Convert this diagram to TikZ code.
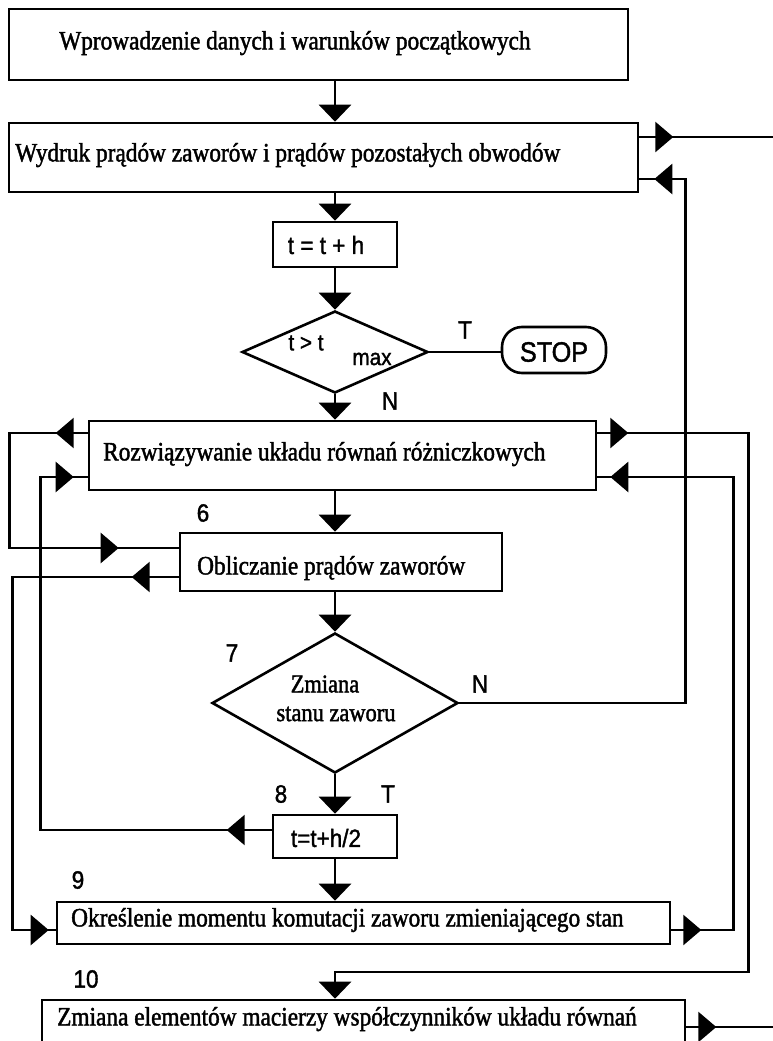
\documentclass[tikz,border=0pt]{standalone}
\usepackage{fontspec}
\setmainfont{Liberation Serif}[FakeBold=1.6,FakeStretch=0.88]
\newfontfamily\lsans{Liberation Sans}[FakeBold=1.4,FakeStretch=0.9]
\usetikzlibrary{arrows.meta,shapes.geometric,decorations.markings}
\newcommand\mytip{\arrow{Triangle[width=30pt,length=18pt]}}
\tikzset{
 box/.style={draw, line width=2.6pt, rectangle, inner sep=0pt},
 btxt/.style={font=\fontsize{26.5}{30}\selectfont, inner sep=0pt, anchor=west, text height=0.68em, text depth=0.2em},
 dtxt/.style={font=\fontsize{25.5}{28}\selectfont, inner sep=0pt},
 lbl/.style={font=\lsans\fontsize{25}{28}\selectfont, inner sep=0pt},
 ln/.style={line width=2.6pt},
 flow/.style={ln, -{Triangle[width=32pt,length=17pt]}},
}
\begin{document}
\begin{tikzpicture}[x=1pt,y=-1pt]
\useasboundingbox (0,0) rectangle (773,1041);
\fill[white] (0,0) rectangle (773,1041);
\coordinate (fx) at (335,0);
% boxes
\node[box, minimum width=619pt, minimum height=71pt] (b1) at (318.5,44.5) {};
\node[btxt] (t1) at (59,47) {Wprowadzenie danych i warunków początkowych};
\node[box, minimum width=629pt, minimum height=69pt] (b2) at (323.5,157.5) {};
\node[btxt] (t2) at (15,159) {Wydruk prądów zaworów i prądów pozostałych obwodów};
\node[box, minimum width=124pt, minimum height=45pt] (tb) at (335,244.5) {};
\node[lbl] (ttb) at (326,245) {t = t + h};
\node[draw, diamond, line width=2.6pt, minimum width=186pt, minimum height=82pt, inner sep=0pt] (d1) at (335,352) {};
\node[lbl, font=\lsans\fontsize{23}{26}\selectfont] (td1a) at (306,343) {t > t};
\node[lbl, font=\lsans\fontsize{23}{26}\selectfont] (td1b) at (372,359) {max};
\node[draw, line width=2.6pt, rounded corners=20pt, minimum width=104pt, minimum height=46pt, inner sep=0pt] (stop) at (554,350) {};
\node[lbl, font=\lsans\fontsize{28}{30}\selectfont] (tstop) at (554,352) {STOP};
\node[lbl] (lT1) at (465,330) {T};
\node[lbl] (lN1) at (390,401) {N};
\node[box, minimum width=507pt, minimum height=69pt] (b3) at (342.5,455.5) {};
\node[btxt] (t3) at (103,458) {Rozwiązywanie układu równań różniczkowych};
\node[lbl] (l6) at (203,513) {6};
\node[box, minimum width=322pt, minimum height=58pt] (ob) at (341,562) {};
\node[btxt] (t4) at (197,572) {Obliczanie prądów zaworów};
\node[lbl] (l7) at (232,653) {7};
\node[draw, diamond, line width=2.6pt, minimum width=246pt, minimum height=140pt, inner sep=0pt] (d7) at (335,703) {};
\node[dtxt] (td7a) at (325,684) {Zmiana};
\node[dtxt] (td7b) at (336,714) {stanu zaworu};
\node[lbl] (lN2) at (480,684) {N};
\node[lbl] (l8) at (281,794) {8};
\node[lbl] (lT2) at (388,794) {T};
\node[box, minimum width=124pt, minimum height=43pt] (t2b) at (335,836.5) {};
\node[lbl] (tt2b) at (326,838) {t=t+h/2};
\node[lbl] (l9) at (78,880) {9};
\node[box, minimum width=613pt, minimum height=42pt] (ok) at (363.5,923) {};
\node[btxt] (t5) at (71,924) {Określenie momentu komutacji zaworu zmieniającego stan};
\node[lbl] (l10) at (86,979) {10};
\node[box, minimum width=643pt, minimum height=46pt] (zm) at (363.5,1023) {};
\node[btxt] (t6) at (57,1023) {Zmiana elementów macierzy współczynników układu równań};
% free ends
\coordinate (outA) at (773,137);
\coordinate (outB) at (773,1027);
% main flow
\draw[flow] (b1.south -| fx) -- (b2.north -| fx);
\draw[flow] (b2.south -| fx) -- (tb.north -| fx);
\draw[flow] (tb.south -| fx) -- (d1.north);
\draw[ln] (d1.east) -- (stop.west |- d1.east);
\draw[flow] (d1.south) -- (b3.north -| fx);
\draw[flow] (b3.south -| fx) -- (ob.north -| fx);
\draw[flow] (ob.south -| fx) -- (d7.north);
\draw[flow] (d7.south) -- (t2b.north -| fx);
\draw[flow] (t2b.south -| fx) -- (ok.north -| fx);
% side loops
\draw[ln, decoration={markings, mark=at position 34pt with {\mytip}}, postaction=decorate]
  ([yshift=20.5pt]b2.east) -- (outA);
\draw[ln, decoration={markings, mark=at position 781pt with {\mytip}}, postaction=decorate]
  (d7.east) -- ++(226,0) |- ([yshift=-21.5pt]b2.east);
\draw[ln, decoration={markings, mark=at position 32pt with {\mytip}, mark=at position 302pt with {\mytip}}, postaction=decorate]
  ([yshift=22.5pt]b3.west) -- ++(-78,0) |- ([yshift=14pt]ob.west);
\draw[ln, decoration={markings, mark=at position 47pt with {\mytip}, mark=at position 555pt with {\mytip}}, postaction=decorate]
  ([yshift=-15pt]ob.west) -- ++(-166,0) |- ([yshift=-7pt]ok.west);
\draw[ln, decoration={markings, mark=at position 45pt with {\mytip}, mark=at position 617pt with {\mytip}}, postaction=decorate]
  ([yshift=6.5pt]t2b.west) -- ++(-231,0) |- ([yshift=-21.5pt]b3.west);
\draw[ln, decoration={markings, mark=at position 31pt with {\mytip}}, postaction=decorate]
  ([yshift=22.5pt]b3.east) -- ++(151,0) -- ++(0,539) -| (fx |- 0,983);
\draw[flow] (335,982) -- (zm.north -| fx);
\draw[ln, decoration={markings, mark=at position 30pt with {\mytip}, mark=at position 638pt with {\mytip}}, postaction=decorate]
  ([yshift=-7pt]ok.east) -- ++(62,0) |- ([yshift=-21.5pt]b3.east);
\draw[ln, decoration={markings, mark=at position 30pt with {\mytip}}, postaction=decorate]
  ([yshift=-4pt]zm.east) -- (outB);
\end{tikzpicture}
\end{document}
